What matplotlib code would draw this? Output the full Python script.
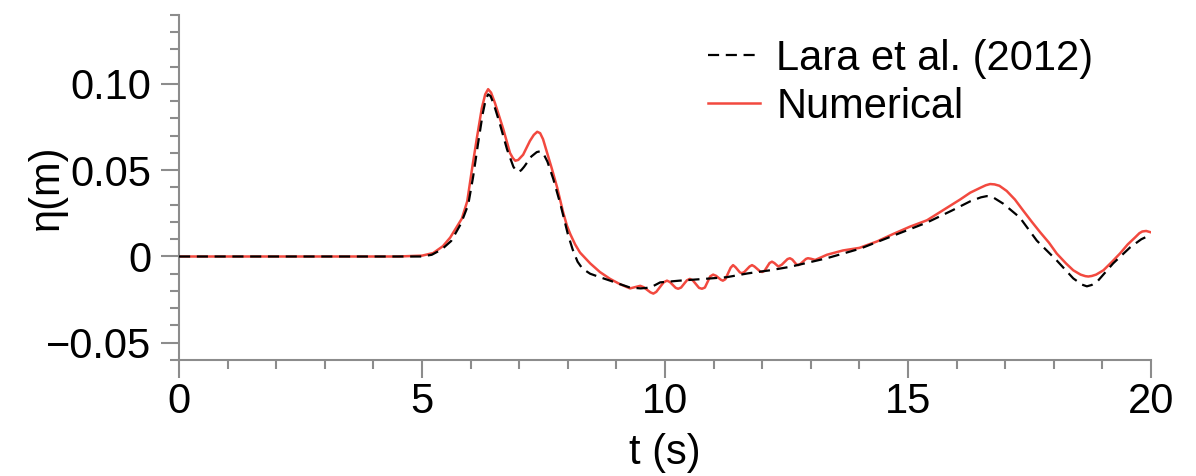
import numpy as np
import matplotlib
matplotlib.use("Agg")
import matplotlib.pyplot as plt
from matplotlib.ticker import MultipleLocator

# Numerical result (red line)
t_num = [0.0, 4.5, 5.0, 5.23, 5.43, 5.58, 5.82, 5.93, 6.03, 6.13, 6.23, 6.3, 6.36, 6.42, 6.5,
         6.67, 6.81, 6.87, 6.92, 6.98, 7.08, 7.22, 7.3, 7.37, 7.43, 7.49, 7.67, 7.78, 7.9,
         7.98, 8.05, 8.15, 8.25, 8.46, 8.66, 8.87, 9.07, 9.28, 9.42, 9.49, 9.56, 9.7, 9.76,
         9.82, 9.97, 10.04, 10.1, 10.22, 10.27, 10.33, 10.45, 10.51, 10.57, 10.7, 10.76,
         10.82, 10.93, 10.99, 11.05, 11.15, 11.19, 11.24, 11.35, 11.4, 11.45, 11.54, 11.58,
         11.63, 11.74, 11.79, 11.84, 11.95, 12.0, 12.05, 12.15, 12.2, 12.25, 12.33, 12.4,
         12.52, 12.57, 12.62, 12.7, 12.74, 12.79, 12.9, 12.94, 13.0, 13.09, 13.33, 13.66,
         14.0, 14.36, 14.69, 15.04, 15.39, 15.73, 16.07, 16.28, 16.5, 16.6, 16.69, 16.78,
         16.88, 17.03, 17.2, 17.37, 17.55, 17.72, 17.9, 18.06, 18.25, 18.4, 18.55, 18.65,
         18.71, 18.78, 18.87, 19.02, 19.2, 19.36, 19.52, 19.67, 19.76, 19.82, 19.9, 20.0]
eta_num = [0.0, 0.0, 0.0005, 0.002, 0.006, 0.011, 0.022, 0.032, 0.051, 0.069, 0.086, 0.094,
           0.097, 0.095, 0.089, 0.074, 0.060, 0.057, 0.0555, 0.056, 0.059, 0.067, 0.0705,
           0.0723, 0.0715, 0.068, 0.051, 0.040, 0.026, 0.018, 0.013, 0.007, 0.0023, -0.004,
           -0.009, -0.013, -0.016, -0.0185, -0.0175, -0.017, -0.0178, -0.0208, -0.0215,
           -0.0205, -0.015, -0.014, -0.0148, -0.0182, -0.0187, -0.018, -0.0138, -0.013,
           -0.0138, -0.0182, -0.0187, -0.018, -0.0115, -0.0105, -0.0112, -0.0135, -0.014,
           -0.0132, -0.0065, -0.005, -0.0062, -0.0092, -0.0097, -0.009, -0.0058, -0.005,
           -0.0058, -0.0085, -0.009, -0.0082, -0.0038, -0.003, -0.0038, -0.0058, -0.0048,
           -0.0015, -0.001, -0.0018, -0.0045, -0.005, -0.0042, -0.0014, -0.001, -0.0013,
           -0.002, 0.001, 0.0035, 0.005, 0.0087, 0.013, 0.0173, 0.021, 0.027, 0.033, 0.037,
           0.040, 0.0413, 0.042, 0.0418, 0.041, 0.038, 0.033, 0.0266, 0.020, 0.014, 0.008,
           0.0017, -0.004, -0.008, -0.0105, -0.0114, -0.0116, -0.0113, -0.0105, -0.008,
           -0.003, 0.0017, 0.007, 0.011, 0.0135, 0.0145, 0.0148, 0.014]

# Lara et al. (2012) measurements (black dashed)
t_lara = [0.0, 5.0, 5.2, 5.4, 5.6, 5.8, 5.95, 6.05, 6.15, 6.25, 6.31, 6.36, 6.41, 6.48, 6.6,
          6.75, 6.88, 6.93, 6.98, 7.04, 7.1, 7.25, 7.36, 7.43, 7.5, 7.58, 7.7, 7.85, 8.0,
          8.1, 8.2, 8.3, 8.46, 8.66, 8.87, 9.07, 9.28, 9.5, 9.7, 9.9, 10.3, 10.8, 11.27,
          11.7, 12.16, 12.57, 13.33, 14.01, 14.69, 15.39, 15.9, 16.28, 16.5, 16.62, 16.75,
          16.96, 17.3, 17.65, 18.06, 18.4, 18.58, 18.68, 18.78, 18.91, 19.22, 19.57, 19.8,
          19.92, 20.0]
eta_lara = [0.0, 0.0, 0.001, 0.004, 0.009, 0.019, 0.030, 0.046, 0.065, 0.083, 0.091, 0.094,
            0.093, 0.088, 0.077, 0.062, 0.052, 0.050, 0.049, 0.050, 0.052, 0.058, 0.0605,
            0.061, 0.0595, 0.055, 0.045, 0.030, 0.013, 0.004, -0.003, -0.007, -0.010, -0.012,
            -0.014, -0.016, -0.018, -0.0185, -0.018, -0.015, -0.014, -0.013, -0.012,
            -0.0098, -0.008, -0.006, -0.001, 0.0045, 0.012, 0.0197, 0.0266, 0.032, 0.0343,
            0.035, 0.0343, 0.0306, 0.0226, 0.0092, -0.0023, -0.0127, -0.0163, -0.0173,
            -0.0165, -0.014, -0.004, 0.0053, 0.0100, 0.0116, 0.012]

plt.rcParams['font.family'] = ['Liberation Sans', 'DejaVu Sans']
plt.rcParams['font.size'] = 30

fig = plt.figure(figsize=(11.96, 4.76), dpi=100)
ax = fig.add_axes([0.1497, 0.2437, 0.8127, 0.7248])

ax.plot(t_lara, eta_lara, color='black', lw=1.6, dashes=(5, 3), zorder=3,
        label='Lara et al. (2012)', solid_joinstyle='round', dash_joinstyle='round')
ax.plot(t_num, eta_num, color='#f2493f', lw=1.8, zorder=2, label='Numerical',
        solid_joinstyle='round')

ax.set_xlim(0, 20)
ax.set_ylim(-0.06, 0.14)
ax.xaxis.set_minor_locator(MultipleLocator(1))
ax.yaxis.set_minor_locator(MultipleLocator(0.01))
ax.set_yticks([-0.05, 0, 0.05, 0.10])
ax.set_yticklabels(['\u22120.05', '0', '0.05', '0.10'])
ax.set_xticks([0, 5, 10, 15, 20])
ax.set_xticklabels(['0', '5', '10', '15', '20'])

for s in ['top', 'right']:
    ax.spines[s].set_visible(False)
for s in ['left', 'bottom']:
    ax.spines[s].set_color('#8c8c8c')
    ax.spines[s].set_linewidth(1.5)

ax.tick_params(which='major', direction='out', length=13, width=1.5, color='#8c8c8c',
               labelsize=30)
ax.tick_params(axis='x', which='major', pad=3)
ax.tick_params(axis='y', which='major', pad=7)
ax.tick_params(which='minor', direction='out', length=6.5, width=1.5, color='#8c8c8c')

ax.set_xlabel('t (s)', fontsize=30, labelpad=8)
ax.set_ylabel('\u03b7(m)', fontsize=30)
ax.yaxis.set_label_coords(-0.115, 0.5)

ax.legend(loc='upper right', frameon=False, fontsize=30, handlelength=1.25,
          handletextpad=0.4, labelspacing=0.2, borderaxespad=0.0,
          bbox_to_anchor=(0.958, 0.98))

fig.savefig('out.png', dpi=100)
